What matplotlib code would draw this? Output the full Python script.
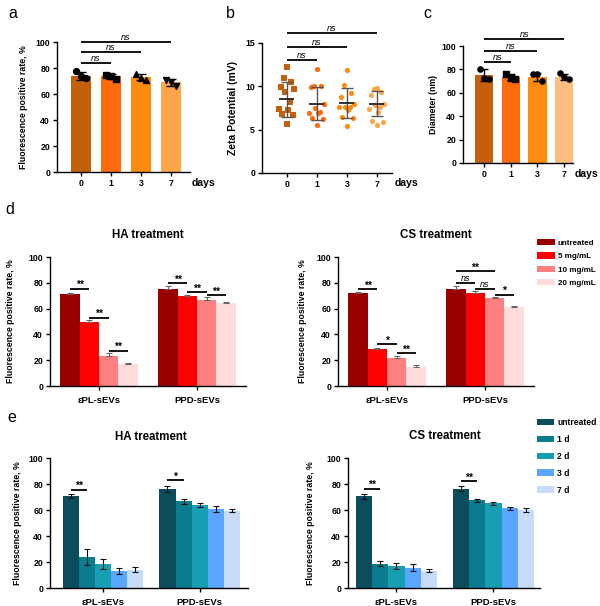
import matplotlib
matplotlib.use("Agg")
import matplotlib.pyplot as plt
import numpy as np
from matplotlib.patches import Patch

plt.rcParams['font.family'] = ['Liberation Sans', 'DejaVu Sans']
plt.rcParams['font.weight'] = 'bold'
plt.rcParams['axes.linewidth'] = 1.0

W, H = 600, 606

# ---------------- data ----------------
days = ['0', '1', '3', '7']
# panel a: fluorescence positive rate
a_mean = [74, 73.5, 73, 69]
a_err = [3, 2.2, 2.3, 2.5]
a_pts = [[77.5, 73.5, 72], [75, 73.5, 71.5], [75.5, 72, 71], [71, 69, 66.5]]
# panel b: zeta potential
b_mean = [8.5, 8.0, 8.1, 8.0]
b_sd = [2.0, 1.9, 1.75, 1.45]
b_pts = [
    [12.2, 11.0, 10.5, 9.9, 9.7, 9.3, 8.2, 7.4, 7.3, 6.8, 6.7, 5.7],
    [12.0, 10.0, 10.0, 9.9, 8.0, 7.5, 7.0, 6.9, 6.9, 6.4, 6.2, 5.5],
    [11.9, 10.2, 9.2, 8.8, 8.0, 7.6, 7.6, 7.6, 7.3, 6.5, 6.3, 5.4],
    [9.8, 9.7, 9.4, 9.0, 8.0, 7.9, 7.6, 7.4, 7.0, 6.0, 5.9, 5.5],
]
# panel c: diameter
c_mean = [75, 73.5, 73.5, 73.5]
c_err = [5, 2.3, 3.7, 2.8]
c_pts = [[80.5, 73, 72], [76, 73, 72], [76, 76, 70], [76.5, 73.5, 72]]

groups = ['εPL-sEVs', 'PPD-sEVs']
d_labels = ['untreated', '5 mg/mL', '10 mg/mL', '20 mg/mL']
d_ha = [[71.5, 49.7, 23.3, 17.2], [75.3, 69.8, 67.0, 64.3]]
d_ha_err = [[0.8, 1.2, 2.0, 0.4], [2.2, 1.1, 1.8, 1.0]]
d_cs = [[72.2, 28.3, 21.9, 15.0], [75.5, 72.3, 68.0, 61.3]]
d_cs_err = [[0.5, 1.5, 1.4, 1.5], [1.7, 1.4, 1.2, 0.9]]

e_labels = ['untreated', '1 d', '2 d', '3 d', '7 d']
e_ha = [[70.5, 23.8, 18.3, 13.2, 14.0], [76.2, 66.8, 63.8, 60.8, 59.5]]
e_ha_err = [[1.5, 6.0, 4.0, 2.2, 1.8], [2.3, 1.8, 1.5, 2.0, 1.3]]
e_cs = [[70.5, 18.7, 16.7, 15.6, 13.4], [76.4, 67.4, 65.1, 61.2, 59.7]]
e_cs_err = [[1.8, 2.0, 2.2, 2.6, 1.2], [2.0, 1.0, 1.0, 1.0, 1.5]]

# colors
c_days = ['#C4600C', '#FF6A0A', '#FF8A10', '#FFA64A']
c_days_c = ['#C4600C', '#FF6A0A', '#FF8A10', '#FFBD80']
c_d = ['#990000', '#FF0000', '#FF8080', '#FFDCDC']
c_e = ['#0B4D5C', '#0B7B8F', '#179EB3', '#58A6FF', '#C7DDF7']
markers = ['o', 's', '^', 'v']

fig = plt.figure(figsize=(W / 100, H / 100), dpi=100)


def ax_px(l, r, t, b):
    return fig.add_axes([l / W, 1 - b / H, (r - l) / W, (b - t) / H])


def style(ax, ylabel, label_x_px, left_px, width_px, fs=6.3):
    for s in ['top', 'right']:
        ax.spines[s].set_visible(False)
    ax.tick_params(axis='both', labelsize=6.3, length=3, width=1.0, pad=2)
    for t in ax.get_xticklabels() + ax.get_yticklabels():
        t.set_fontweight('bold')
    ax.set_ylabel(ylabel, fontsize=fs, fontweight='bold')
    ax.yaxis.set_label_coords((label_x_px - left_px) / width_px, 0.5)


def sig(ax, x1, x2, y, text, fs=6.5):
    ax.plot([x1, x2], [y, y], color='black', lw=1.3, clip_on=False,
            solid_capstyle='butt')
    if text == 'ns':
        ax.text((x1 + x2) / 2, y, 'ns', ha='center', va='bottom',
                fontsize=fs, style='italic', fontweight='normal')
    else:
        ax.text((x1 + x2) / 2, y - 1.2, text, ha='center', va='bottom',
                fontsize=fs + 1, fontweight='bold')


xi = np.arange(len(days))
jit3 = [-0.17, 0.0, 0.17]

# ---------------- panel a ----------------
ax = ax_px(57, 190, 42, 172)
ax.bar(xi, a_mean, width=0.67, color=c_days, zorder=1)
ax.errorbar(xi, a_mean, yerr=a_err, fmt='none', ecolor='black', elinewidth=1,
            capsize=3.5, capthick=1, zorder=2)
for i, pts in enumerate(a_pts):
    ax.scatter(np.array(jit3) + i, pts, marker=markers[i], color='black', s=18,
               zorder=3, clip_on=False)
ax.set_xlim(-0.8, 3.63)
ax.set_ylim(0, 100)
ax.set_yticks([0, 20, 40, 60, 80, 100])
ax.set_xticks(xi)
ax.set_xticklabels(days)
style(ax, 'Fluorescence positive rate, %', 28, 57, 133)
sig(ax, 0, 3, 100, 'ns')
sig(ax, 0, 2, 92, 'ns')
sig(ax, 0, 1, 84, 'ns')
fig.text(192 / W, 1 - 183 / H, 'days', fontsize=7.5, fontweight='bold', va='center')

# ---------------- panel b ----------------
ax = ax_px(262, 392, 43, 173)
jit12 = [0.0, -0.1, 0.15, -0.2, 0.25, -0.05, 0.1, -0.25, 0.05, -0.15, 0.2, 0.0]
b_mk = ['s', 'o', 'o', 'o']
for i, pts in enumerate(b_pts):
    ax.scatter(np.array(jit12) + i, pts, marker=b_mk[i], color=c_days[i], s=14,
               zorder=2, linewidths=0)
ax.errorbar(xi, b_mean, yerr=b_sd, fmt='none', ecolor='#555555', elinewidth=1,
            capsize=4, capthick=1, zorder=3)
ax.hlines(b_mean, xi - 0.25, xi + 0.25, color='#222222', lw=1.3, zorder=4)
ax.set_xlim(-0.83, 3.5)
ax.set_ylim(0, 15)
ax.set_yticks([0, 5, 10, 15])
ax.set_xticks(xi)
ax.set_xticklabels(days)
style(ax, 'Zeta Potential (mV)', 238, 262, 130, fs=7.5)
sig(ax, 0, 3, 16.2, 'ns')
sig(ax, 0, 2, 14.5, 'ns')
sig(ax, 0, 1, 13.0, 'ns')
fig.text(395 / W, 1 - 183 / H, 'days', fontsize=7.5, fontweight='bold', va='center')

# ---------------- panel c ----------------
ax = ax_px(463, 573, 46, 163)
ax.bar(xi, c_mean, width=0.69, color=c_days_c, zorder=1)
ax.errorbar(xi, c_mean, yerr=c_err, fmt='none', ecolor='black', elinewidth=1,
            capsize=3, capthick=1, zorder=2)
c_mk = ['o', 's', 'o', 'o']
for i, pts in enumerate(c_pts):
    ax.scatter(np.array(jit3) + i, pts, marker=c_mk[i], color='black', s=14,
               zorder=3)
ax.set_xlim(-0.79, 3.33)
ax.set_ylim(0, 100)
ax.set_yticks([0, 20, 40, 60, 80, 100])
ax.set_xticks(xi)
ax.set_xticklabels(days)
style(ax, 'Diameter (nm)', 438, 463, 110, fs=6.3)
sig(ax, 0, 3, 105.7, 'ns')
sig(ax, 0, 2, 96, 'ns')
sig(ax, 0, 1, 86.6, 'ns')
fig.text(575 / W, 1 - 174 / H, 'days', fontsize=7.5, fontweight='bold', va='center')


# ---------------- grouped panels ----------------
def grouped(ax, vals, errs, colors, w, one_sided, ecolor):
    n = len(colors)
    for g in range(len(groups)):
        for j in range(n):
            x = g + (j - (n - 1) / 2) * w
            ax.bar(x, vals[g][j], width=w, color=colors[j], zorder=1)
            if one_sided:
                yerr = [[0], [errs[g][j]]]
            else:
                yerr = [[errs[g][j]], [errs[g][j]]]
            ax.errorbar(x, vals[g][j], yerr=yerr, fmt='none', ecolor=ecolor,
                        elinewidth=0.8, capsize=2.5, capthick=0.8, zorder=2)
    ax.set_ylim(0, 100)
    ax.set_yticks([0, 20, 40, 60, 80, 100])
    ax.set_xticks(range(len(groups)))
    ax.set_xticklabels(groups)


def bx(g, j, n, w):
    return g + (j - (n - 1) / 2) * w


wd, we = 0.197, 0.167

# d left
ax = ax_px(50, 246, 257, 386)
grouped(ax, d_ha, d_ha_err, c_d, wd, True, '#666666')
ax.set_xlim(-0.5, 1.5)
style(ax, 'Fluorescence positive rate, %', 15, 50, 196)
ax.tick_params(axis='x', labelsize=6.8, pad=4)
sig(ax, bx(0, 0, 4, wd), bx(0, 1, 4, wd), 75.5, '**')
sig(ax, bx(0, 1, 4, wd), bx(0, 2, 4, wd), 53, '**')
sig(ax, bx(0, 2, 4, wd), bx(0, 3, 4, wd), 27.5, '**')
sig(ax, bx(1, 0, 4, wd), bx(1, 1, 4, wd), 79.9, '**')
sig(ax, bx(1, 1, 4, wd), bx(1, 2, 4, wd), 73, '**')
sig(ax, bx(1, 2, 4, wd), bx(1, 3, 4, wd), 70.4, '**')
fig.text(148 / W, 1 - 235 / H, 'HA treatment', fontsize=8.3, fontweight='bold',
         ha='center', va='center')

# d right
ax = ax_px(338, 534, 257, 386)
grouped(ax, d_cs, d_cs_err, c_d, wd, True, '#666666')
ax.set_xlim(-0.5, 1.5)
style(ax, 'Fluorescence positive rate, %', 307, 338, 196)
ax.tick_params(axis='x', labelsize=6.8, pad=4)
sig(ax, bx(0, 0, 4, wd), bx(0, 1, 4, wd), 75, '**')
sig(ax, bx(0, 1, 4, wd), bx(0, 2, 4, wd), 32.2, '*')
sig(ax, bx(0, 2, 4, wd), bx(0, 3, 4, wd), 25.3, '**')
sig(ax, bx(1, 0, 4, wd), bx(1, 2, 4, wd), 88.9, '**')
sig(ax, bx(1, 0, 4, wd), bx(1, 1, 4, wd), 79.9, 'ns')
sig(ax, bx(1, 1, 4, wd), bx(1, 2, 4, wd), 75.5, 'ns')
sig(ax, bx(1, 2, 4, wd), bx(1, 3, 4, wd), 70.9, '*')
fig.text(436 / W, 1 - 235 / H, 'CS treatment', fontsize=8.3, fontweight='bold',
         ha='center', va='center')
handles = [Patch(facecolor=c, edgecolor='none') for c in c_d]
fig.legend(handles, d_labels, loc='upper left', bbox_to_anchor=(537 / W, 1 - 239 / H),
           frameon=False, handlelength=2.2, handleheight=0.8,
           labelspacing=0.68, handletextpad=0.4, borderpad=0, borderaxespad=0,
           prop={'weight': 'bold', 'size': 5.8})

# e left
ax = ax_px(50, 248, 458, 588)
grouped(ax, e_ha, e_ha_err, c_e, we, False, '#111111')
ax.set_xlim(-0.55, 1.5)
style(ax, 'Fluorescence positive rate, %', 22, 50, 198)
ax.tick_params(axis='x', labelsize=6.8, pad=4)
sig(ax, bx(0, 0, 5, we), bx(0, 1, 5, we), 75.6, '**')
sig(ax, bx(1, 0, 5, we), bx(1, 1, 5, we), 82.8, '*')
fig.text(151 / W, 1 - 437 / H, 'HA treatment', fontsize=8.3, fontweight='bold',
         ha='center', va='center')

# e right
ax = ax_px(348, 540, 458, 588)
grouped(ax, e_cs, e_cs_err, c_e, we, False, '#111111')
ax.set_xlim(-0.5, 1.48)
style(ax, 'Fluorescence positive rate, %', 315, 348, 192)
ax.tick_params(axis='x', labelsize=6.8, pad=4)
sig(ax, bx(0, 0, 5, we), bx(0, 1, 5, we), 76.4, '**')
sig(ax, bx(1, 0, 5, we), bx(1, 1, 5, we), 82.3, '**')
fig.text(445 / W, 1 - 436 / H, 'CS treatment', fontsize=8.3, fontweight='bold',
         ha='center', va='center')
handles = [Patch(facecolor=c, edgecolor='none') for c in c_e]
fig.legend(handles, e_labels, loc='upper left', bbox_to_anchor=(537 / W, 1 - 418 / H),
           frameon=False, handlelength=2.0, handleheight=0.8,
           labelspacing=0.92, handletextpad=0.35, borderpad=0, borderaxespad=0,
           prop={'weight': 'bold', 'size': 6.2})

# panel letters
for txt, x, y in [('a', 8, 14), ('b', 226, 14), ('c', 423, 14), ('d', 5, 210), ('e', 7, 418)]:
    fig.text(x / W, 1 - y / H, txt, fontsize=11.5, fontweight='normal',
             ha='left', va='center')

fig.savefig('out.png', dpi=100)
